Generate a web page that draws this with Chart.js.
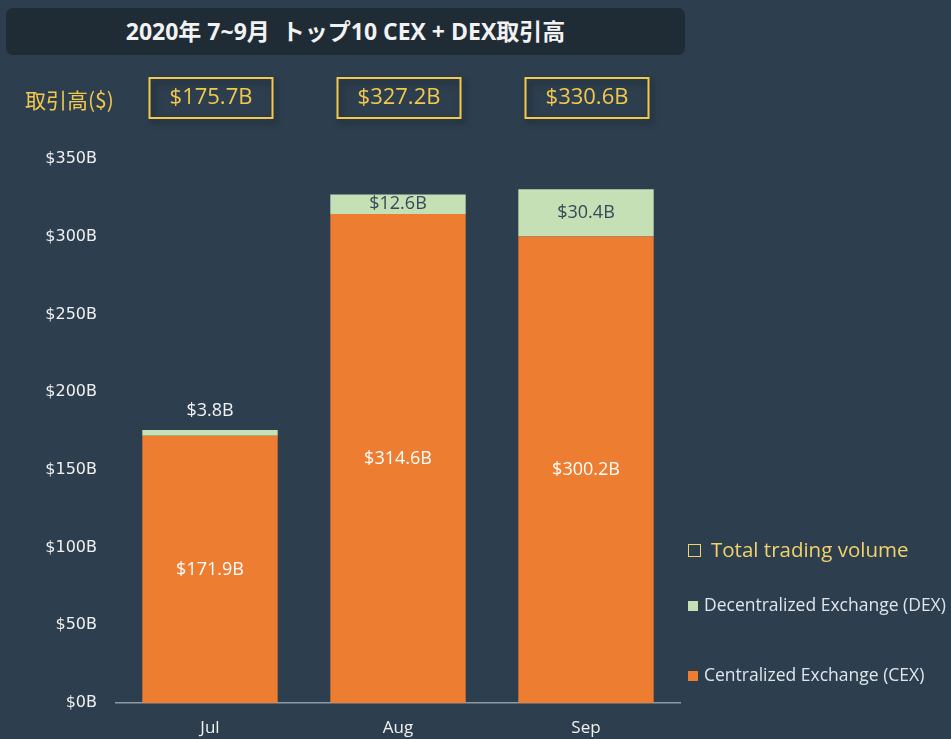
<!DOCTYPE html>
<html>
<head>
<meta charset="utf-8">
<script src="https://cdn.jsdelivr.net/npm/chart.js@4.4.0/dist/chart.umd.min.js"></script>
<style>
  html, body { margin: 0; padding: 0; background: #2d3e4e; }
  #wrap { position: relative; width: 951px; height: 739px; overflow: hidden; font-family: "Open Sans", "Noto Sans CJK JP", sans-serif; }
  #chart { position: absolute; left: 0; top: 0; }
  #title {
    position: absolute; left: 6px; top: 8px; width: 679px; height: 47px;
    background: #1f2b35; border-radius: 7px;
    color: #f2f2f2; font-weight: bold; font-size: 23px;
    line-height: 47px; text-align: center;
  }
  #unit { position: absolute; left: 25px; top: 84px; color: #f2c94c; font-size: 21px; font-family: "Noto Sans CJK JP", "Open Sans", sans-serif; }
  .leg { position: absolute; left: 688px; white-space: nowrap; color: #dfe5ea; font-size: 17.5px; }
  .leg .sw { display: inline-block; width: 10px; height: 10px; margin-right: 6px; vertical-align: 0px; }
  .leg.total { color: #f2d36b; font-size: 20.5px; }
  .leg.total .sw { width: 11px; height: 11px; border: 1.5px solid #f2d36b; background: none; margin-right: 10px; }
</style>
</head>
<body>
<div id="wrap">
  <canvas id="chart" width="951" height="739"></canvas>
  <div id="title">2020年 7~9月&nbsp;&nbsp;トップ10 CEX + DEX取引高</div>
  <div id="unit">取引高($)</div>
  <div id="legend"></div>
</div>
<script>
document.addEventListener('DOMContentLoaded', function () {
  // chart values (billions USD)
  const months = ['Jul', 'Aug', 'Sep'];
  const cexVolume = [171.9, 314.6, 300.2];
  const dexVolume = [3.8, 12.6, 30.4];
  const seriesNames = ['Centralized Exchange (CEX)', 'Decentralized Exchange (DEX)'];
  const totalLabel = 'Total trading volume';
  const yTicks = [0, 50, 100, 150, 200, 250, 300, 350];

  const orange = '#ed7d31';
  const green = '#c5e0b4';
  const yellow = '#f2c94c';

  const fmt = v => '$' + v.toFixed(1) + 'B';

  // legend (html)
  const legend = document.getElementById('legend');
  const legItems = [
    { text: totalLabel, cls: 'total', top: 535, color: null },
    { text: seriesNames[1], cls: '', top: 592, color: green },
    { text: seriesNames[0], cls: '', top: 662, color: orange }
  ];
  legItems.forEach(it => {
    const d = document.createElement('div');
    d.className = 'leg ' + it.cls;
    d.style.top = it.top + 'px';
    d.innerHTML = '<span class="sw"' + (it.color ? ' style="background:' + it.color + '"' : '') + '></span>' + it.text;
    legend.appendChild(d);
  });

  // labels on bars + total boxes
  const labelsPlugin = {
    id: 'barLabels',
    afterDatasetsDraw(chart) {
      const ctx = chart.ctx;
      ctx.save();
      ctx.textAlign = 'center';
      ctx.textBaseline = 'middle';
      ctx.font = '18px "Open Sans"';
      chart.data.datasets.forEach((ds, di) => {
        const meta = chart.getDatasetMeta(di);
        meta.data.forEach((bar, i) => {
          const h = bar.base - bar.y;
          const txt = fmt(ds.data[i]);
          if (h < 12) {
            ctx.fillStyle = '#f2f2f2';
            ctx.fillText(txt, bar.x, bar.y - 19);
          } else {
            ctx.fillStyle = di === 0 ? '#ffffff' : '#34495a';
            ctx.fillText(txt, bar.x, (bar.y + bar.base) / 2);
          }
        });
      });

      // total boxes above the chart
      const xs = chart.scales.x;
      months.forEach((m, i) => {
        const total = cexVolume[i] + dexVolume[i];
        const cx = xs.getPixelForValue(i) + 1;
        const w = 123, hgt = 40, top = 78;
        ctx.save();
        ctx.shadowColor = 'rgba(0,0,0,0.45)';
        ctx.shadowBlur = 7;
        ctx.shadowOffsetX = 3;
        ctx.shadowOffsetY = 4;
        ctx.strokeStyle = yellow;
        ctx.lineWidth = 2;
        ctx.strokeRect(cx - w / 2, top, w, hgt);
        ctx.restore();
        ctx.fillStyle = yellow;
        ctx.font = '22px "Open Sans"';
        ctx.fillText(fmt(total), cx, top + hgt / 2);
      });
      ctx.restore();
    }
  };

  new Chart(document.getElementById('chart').getContext('2d'), {
    type: 'bar',
    data: {
      labels: months,
      datasets: [
        { label: seriesNames[0], data: cexVolume, backgroundColor: orange, borderWidth: 0 },
        { label: seriesNames[1], data: dexVolume, backgroundColor: green, borderWidth: 0 }
      ]
    },
    options: {
      responsive: false,
      animation: false,
      events: [],
      layout: { padding: { top: 159, right: 271, bottom: 0, left: 0 } },
      datasets: { bar: { barPercentage: 0.72, categoryPercentage: 1.0 } },
      plugins: {
        legend: { display: false },
        tooltip: { enabled: false }
      },
      scales: {
        x: {
          stacked: true,
          grid: { display: false, drawTicks: false },
          border: { display: true, color: '#8c9aa6', width: 1.5 },
          ticks: {
            color: '#f0f0f0',
            padding: 15,
            font: { family: "'Open Sans', sans-serif", size: 17 }
          },
          afterFit(scale) { scale.height = 36; }
        },
        y: {
          stacked: true,
          min: 0,
          max: 350,
          grid: { display: false, drawTicks: false },
          border: { display: false },
          afterBuildTicks(scale) { scale.ticks = yTicks.map(v => ({ value: v })); },
          ticks: {
            color: '#f0f0f0',
            padding: 19,
            font: { family: "'DejaVu Sans', sans-serif", size: 16 },
            callback: v => '$' + v + 'B'
          },
          afterFit(scale) { scale.width = 116; }
        }
      }
    },
    plugins: [labelsPlugin]
  });
});
</script>
</body>
</html>
